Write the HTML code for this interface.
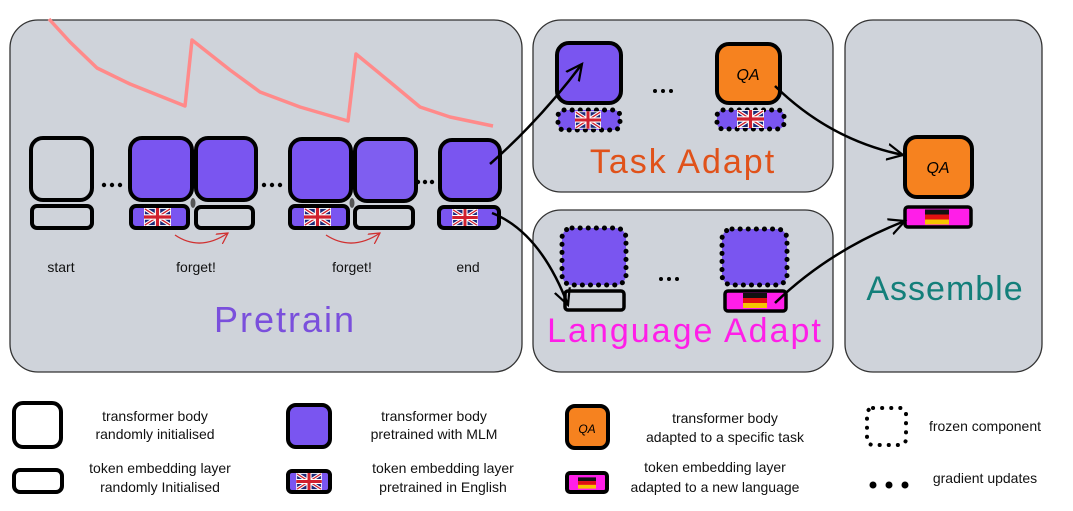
<!DOCTYPE html>
<html><head><meta charset="utf-8"><style>
html,body{margin:0;padding:0;background:#fff;}
svg{display:block;font-family:"Liberation Sans",sans-serif;}
</style></head><body>
<svg width="1073" height="511" viewBox="0 0 1073 511" xmlns="http://www.w3.org/2000/svg">
<defs>
<symbol id="uk" viewBox="0 0 30 20">
<rect width="30" height="20" fill="#fff"/>
<rect x="1" y="1" width="28" height="18" fill="#1b2a7a"/>
<path d="M1 1L29 19M29 1L1 19" stroke="#fff" stroke-width="4"/>
<path d="M1 1L29 19M29 1L1 19" stroke="#d0202e" stroke-width="1.5"/>
<path d="M15 0V20M0 10H30" stroke="#fff" stroke-width="6"/>
<path d="M15 0V20M0 10H30" stroke="#d0202e" stroke-width="3.5"/>
</symbol>
<symbol id="de" viewBox="0 0 24 15">
<rect width="24" height="5" fill="#111"/>
<rect y="5" width="24" height="5" fill="#e01010"/>
<rect y="10" width="24" height="5" fill="#f6c400"/>
</symbol>
<marker id="ah" markerWidth="20" markerHeight="20" refX="16" refY="10" orient="auto" markerUnits="userSpaceOnUse">
<path d="M0 2L16 10L0 18" fill="none" stroke="#000" stroke-width="2.2"/>
</marker>
<marker id="ahr" markerWidth="12" markerHeight="12" refX="11" refY="6" orient="auto" markerUnits="userSpaceOnUse">
<path d="M0 0L11 6L0 12" fill="none" stroke="#d03030" stroke-width="1.3"/>
</marker>
</defs>

<g fill="#cfd3da" stroke="#333" stroke-width="1.3">
<rect x="10" y="20" width="512" height="352" rx="28"/>
<rect x="533" y="20" width="300" height="172" rx="28"/>
<rect x="533" y="210" width="300" height="162" rx="28"/>
<rect x="845" y="20" width="197" height="352" rx="28"/>
</g>

<polyline points="49,19 70,42 97,68 130,84 185,106 192,40 230,70 260,92 300,107 348,121 356,54 390,82 420,107 450,117 493,126" fill="none" stroke="#ff8a8a" stroke-width="3.5" stroke-linejoin="round"/>

<g stroke="#000" stroke-width="4">
<rect x="31" y="138" width="61" height="62" rx="12" fill="none"/>
<rect x="32" y="206" width="60" height="22" rx="5" fill="none"/>
<rect x="130" y="138" width="62" height="62" rx="12" fill="#7a55f0"/>
<rect x="196" y="138" width="60" height="62" rx="12" fill="#7a55f0"/>
<rect x="131" y="206" width="57" height="22" rx="5" fill="#7a55f0"/>
<rect x="196" y="207" width="57" height="21" rx="5" fill="none"/>
<rect x="290" y="139" width="61" height="62" rx="12" fill="#7a55f0"/>
<rect x="355" y="139" width="61" height="62" rx="12" fill="#7f5ef0"/>
<rect x="290" y="206" width="58" height="22" rx="5" fill="#7a55f0"/>
<rect x="355" y="207" width="58" height="21" rx="5" fill="none"/>
<rect x="440" y="140" width="60" height="60" rx="12" fill="#7a55f0"/>
<rect x="439" y="207" width="60" height="21" rx="5" fill="#7a55f0"/>
</g>
<ellipse cx="193" cy="203" rx="2.5" ry="5" fill="#555"/>
<ellipse cx="352" cy="203" rx="2.5" ry="5" fill="#555"/>
<use href="#uk" x="144" y="208" width="27" height="18"/>
<use href="#uk" x="304" y="208" width="27" height="18"/>
<use href="#uk" x="452" y="209" width="26" height="17"/>
<g fill="#000">
<circle cx="104" cy="185" r="2.2"/><circle cx="112" cy="185" r="2.2"/><circle cx="120" cy="185" r="2.2"/>
<circle cx="264" cy="185" r="2.2"/><circle cx="272" cy="185" r="2.2"/><circle cx="280" cy="185" r="2.2"/>
<circle cx="418" cy="182" r="2.2"/><circle cx="425" cy="182" r="2.2"/><circle cx="432" cy="182" r="2.2"/>
</g>
<path d="M175 235Q200 252 228 233" fill="none" stroke="#d03030" stroke-width="1.3" marker-end="url(#ahr)"/>
<path d="M326 235Q352 252 380 233" fill="none" stroke="#d03030" stroke-width="1.3" marker-end="url(#ahr)"/>
<g font-size="14" text-anchor="middle" fill="#111">
<text x="61" y="272">start</text>
<text x="196" y="272">forget!</text>
<text x="352" y="272">forget!</text>
<text x="468" y="272">end</text>
</g>
<text x="285" y="332" font-size="36" fill="#7a4fdc" text-anchor="middle" letter-spacing="2">Pretrain</text>

<g stroke="#000" stroke-width="4">
<rect x="557" y="43" width="64" height="60" rx="12" fill="#7a55f0"/>
<rect x="717" y="44" width="63" height="59" rx="12" fill="#f6821f"/>
</g>
<g stroke="#000" stroke-width="5" stroke-dasharray="0.1 8" stroke-linecap="round">
<rect x="558" y="110" width="62" height="20" rx="6" fill="#7a55f0"/>
<rect x="717" y="110" width="67" height="19" rx="6" fill="#7a55f0"/>
</g>
<use href="#uk" x="575" y="111" width="26" height="18"/>
<use href="#uk" x="737" y="110" width="27" height="18"/>
<text x="748" y="80" font-size="16" font-style="italic" text-anchor="middle">QA</text>
<g fill="#000"><circle cx="655" cy="91" r="2"/><circle cx="663" cy="91" r="2"/><circle cx="671" cy="91" r="2"/></g>
<text x="683" y="173" font-size="34" fill="#e0521a" text-anchor="middle" letter-spacing="2">Task Adapt</text>

<g stroke="#000" stroke-width="5" stroke-dasharray="0.1 8" stroke-linecap="round">
<rect x="562" y="228" width="64" height="57" rx="10" fill="#7a55f0"/>
<rect x="722" y="229" width="65" height="56" rx="10" fill="#7a55f0"/>
</g>
<g stroke="#000" stroke-width="3.5">
<rect x="565" y="291" width="59" height="19" rx="3" fill="none"/>
<rect x="725" y="291" width="61" height="20" rx="3" fill="#ff1ee8"/>
</g>
<use href="#de" x="743" y="292" width="24" height="17"/>
<g fill="#000"><circle cx="661" cy="279" r="2"/><circle cx="669" cy="279" r="2"/><circle cx="677" cy="279" r="2"/></g>
<text x="685" y="342" font-size="34" fill="#ff1ee8" text-anchor="middle" letter-spacing="2">Language Adapt</text>

<rect x="905" y="137" width="67" height="60" rx="12" fill="#f6821f" stroke="#000" stroke-width="4"/>
<rect x="905" y="207" width="66" height="20" rx="3" fill="#ff1ee8" stroke="#000" stroke-width="3.5"/>
<use href="#de" x="925" y="209" width="24" height="16"/>
<text x="938" y="173" font-size="16" font-style="italic" text-anchor="middle">QA</text>
<text x="945" y="300" font-size="34" fill="#137f7a" text-anchor="middle" letter-spacing="1">Assemble</text>

<g fill="none" stroke="#000" stroke-width="2.5" marker-end="url(#ah)">
<path d="M490 164Q540 120 582 64"/>
<path d="M492 213Q540 232 568 305"/>
<path d="M775 86Q830 140 903 155"/>
<path d="M775 303Q830 250 905 221"/>
</g>

<g stroke="#000" stroke-width="4">
<rect x="14" y="403" width="47" height="44" rx="9" fill="none"/>
<rect x="14" y="470" width="48" height="22" rx="6" fill="none"/>
<rect x="288" y="405" width="42" height="42" rx="8" fill="#7a55f0"/>
<rect x="288" y="471" width="42" height="21" rx="4" fill="#7a55f0"/>
<rect x="567" y="406" width="41" height="42" rx="8" fill="#f6821f"/>
<rect x="567" y="473" width="40" height="19" rx="3" fill="#ff1ee8"/>
</g>
<use href="#uk" x="296" y="473" width="26" height="17"/>
<use href="#de" x="578" y="477" width="18" height="12"/>
<text x="587" y="433" font-size="12" font-style="italic" text-anchor="middle">QA</text>
<rect x="867" y="408" width="39" height="37" rx="6" fill="none" stroke="#000" stroke-width="4" stroke-dasharray="0.1 9" stroke-linecap="round"/>
<g fill="#000"><circle cx="873" cy="485" r="3.5"/><circle cx="889" cy="485" r="3.5"/><circle cx="905" cy="485" r="3.5"/></g>
<g font-size="14" text-anchor="middle" fill="#111">
<text x="155" y="421">transformer body</text><text x="155" y="439">randomly initialised</text>
<text x="160" y="473">token embedding layer</text><text x="160" y="492">randomly Initialised</text>
<text x="434" y="421">transformer body</text><text x="434" y="439">pretrained with MLM</text>
<text x="443" y="473">token embedding layer</text><text x="443" y="492">pretrained in English</text>
<text x="725" y="423">transformer body</text><text x="725" y="442">adapted to a specific task</text>
<text x="715" y="472">token embedding layer</text><text x="715" y="492">adapted to a new language</text>
<text x="985" y="431">frozen component</text>
<text x="985" y="483">gradient updates</text>
</g>
</svg>
</body></html>
